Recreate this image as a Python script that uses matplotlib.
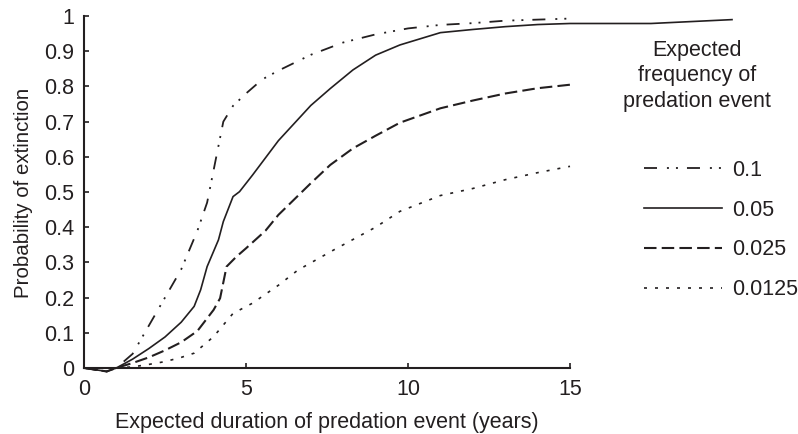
import matplotlib
matplotlib.use("Agg")
import matplotlib.pyplot as plt

plt.rcParams['font.family'] = ['Liberation Sans', 'DejaVu Sans']

ink = "#231f20"

# expected frequency 0.1
x_01 = [0, 0.7, 1, 1.5, 2, 2.5, 3, 3.5, 3.8, 4.3, 4.6, 5, 5.5, 6, 7, 8, 9, 10, 11, 12, 13, 14, 15]
y_01 = [0, -0.01, 0, 0.04, 0.12, 0.2, 0.28, 0.39, 0.47, 0.70, 0.745, 0.78, 0.82, 0.845,
        0.89, 0.925, 0.948, 0.965, 0.975, 0.98, 0.987, 0.99, 0.993]

# expected frequency 0.05
x_005 = [0, 0.7, 1, 1.5, 2, 2.5, 3, 3.4, 3.6, 3.8, 4.15, 4.3, 4.6, 4.8, 5.2, 6, 7, 7.6,
         8.3, 9, 9.75, 11, 12, 13, 14, 15, 17.5, 20]
y_005 = [0, -0.01, 0, 0.025, 0.055, 0.088, 0.13, 0.175, 0.222, 0.288, 0.364, 0.416, 0.487,
         0.501, 0.548, 0.646, 0.746, 0.794, 0.847, 0.889, 0.918, 0.953, 0.962, 0.97, 0.976,
         0.979, 0.979, 0.99]

# expected frequency 0.025
x_0025 = [0, 0.7, 1, 1.5, 2, 2.5, 3, 3.5, 4, 4.2, 4.4, 4.7, 5, 5.6, 6, 6.5, 7, 7.6, 8.3,
          9, 9.75, 11, 12, 13, 14, 15]
y_0025 = [0, -0.01, 0, 0.014, 0.03, 0.05, 0.073, 0.105, 0.165, 0.198, 0.288, 0.316, 0.34,
          0.39, 0.435, 0.48, 0.525, 0.577, 0.624, 0.66, 0.697, 0.738, 0.76, 0.78, 0.795, 0.805]

# expected frequency 0.0125
x_00125 = [0, 0.7, 1, 1.5, 2, 2.5, 3, 3.4, 4, 4.6, 5.2, 6, 6.6, 7.7, 9, 9.75, 11, 12, 13, 14, 15]
y_00125 = [0, -0.01, 0, 0.003, 0.01, 0.018, 0.03, 0.042, 0.089, 0.155, 0.184, 0.235, 0.278,
           0.335, 0.4, 0.445, 0.49, 0.51, 0.535, 0.555, 0.573]

labels = ["0.1", "0.05", "0.025", "0.0125"]

fs = 15.5

fig = plt.figure(figsize=(7.98, 4.34), dpi=100)
ax = fig.add_axes([84 / 798, 0.136, (20.3 * 32.4) / 798, 0.835])

ax.plot(x_01, y_01, color=ink, lw=1.3, dashes=(7.2, 5.5, 1.1, 3.9, 1.1, 5), label=labels[0])
ax.plot(x_005, y_005, color=ink, lw=1.2, label=labels[1])
ax.plot(x_0025, y_0025, color=ink, lw=1.5, dashes=(6, 2.5), label=labels[2])
ax.plot(x_00125, y_00125, color=ink, lw=1.2, dashes=(1.8, 4.8), label=labels[3])

ax.set_xlim(0, 20.3)
ax.set_ylim(-0.02, 1.01)

for s in ["top", "right"]:
    ax.spines[s].set_visible(False)
ax.spines["bottom"].set_position(("data", 0))
ax.spines["bottom"].set_bounds(0, 15)
ax.spines["left"].set_bounds(0, 1)
for s in ["bottom", "left"]:
    ax.spines[s].set_linewidth(1.5)
    ax.spines[s].set_color(ink)

ax.set_xticks([0, 5, 10, 15])
ax.set_yticks([0, 0.1, 0.2, 0.3, 0.4, 0.5, 0.6, 0.7, 0.8, 0.9, 1])
ax.set_yticklabels(["0", "0.1", "0.2", "0.3", "0.4", "0.5", "0.6", "0.7", "0.8", "0.9", "1"])
ax.tick_params(axis="x", direction="in", length=3.5, width=1.2, pad=8, labelsize=fs, colors=ink)
ax.tick_params(axis="y", direction="in", length=3.5, width=1.2, pad=7, labelsize=fs, colors=ink)

ax.set_xlabel("Expected duration of predation event (years)", fontsize=fs, color=ink, va="top")
ax.xaxis.set_label_coords(7.5 / 20.3, -0.102)
ax.set_ylabel("Probability of extinction", fontsize=14.8, color=ink)
ax.yaxis.set_label_coords(-0.078, 0.502)

ax.text(697 / 798, 1 - 76 / 434, "Expected\nfrequency of\npredation event",
        transform=fig.transFigure, ha="center", va="center", fontsize=fs,
        color=ink, linespacing=1.3)

leg = ax.legend(loc="upper left", bbox_to_anchor=(644 / 798, 1 - 160 / 434),
                bbox_transform=fig.transFigure, frameon=False, fontsize=fs,
                borderpad=0, borderaxespad=0, handlelength=3.6, handletextpad=0.5,
                labelspacing=0.87)
for t in leg.get_texts():
    t.set_color(ink)

fig.savefig("out.png", dpi=100)
